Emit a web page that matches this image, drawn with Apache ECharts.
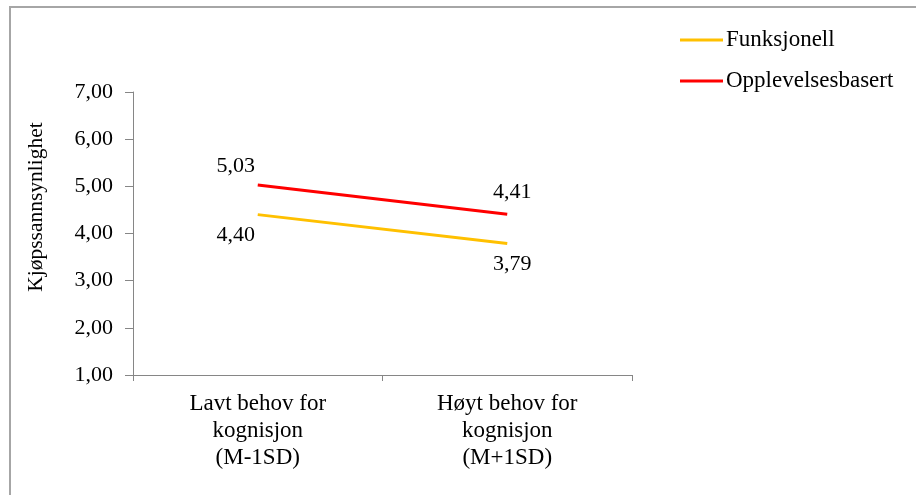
<!DOCTYPE html>
<html>
<head>
<meta charset="utf-8">
<script src="https://cdn.jsdelivr.net/npm/echarts@6/dist/echarts.min.js"></script>
<style>
html,body{margin:0;padding:0;background:#fff;}
#c{width:916px;height:495px;}
</style>
</head>
<body>
<div id="c"></div>
<script>
const categories = ['Lavt behov for\nkognisjon\n(M-1SD)', 'Høyt behov for\nkognisjon\n(M+1SD)'];
const seriesNames = ['Funksjonell', 'Opplevelsesbasert'];
const funksjonell = [4.40, 3.79];
const opplevelsesbasert = [5.03, 4.41];
const yTicks = [1, 2, 3, 4, 5, 6, 7];
const yAxisTitle = 'Kjøpssannsynlighet';

const font = 'Liberation Serif';
const fmt = v => Number(v).toFixed(2).replace('.', ',');

const chart = echarts.init(document.getElementById('c'), null, {renderer: 'canvas'});
chart.setOption({
  animation: false,
  backgroundColor: '#fff',
  textStyle: {fontFamily: font},
  grid: {left: 133, right: 284, top: 92, bottom: 120},
  graphic: [
    {type: 'rect', shape: {x: 10, y: 7, width: 920, height: 500},
     style: {fill: 'none', stroke: '#a6a6a6', lineWidth: 2}, silent: true},
    {type: 'text', x: 36, y: 207, rotation: Math.PI / 2,
     style: {text: yAxisTitle, font: '21.5px "Liberation Serif"', fill: '#000',
             align: 'center', verticalAlign: 'middle'}}
  ],
  legend: {
    orient: 'vertical', left: 680, top: 28, padding: 0,
    itemWidth: 43, itemHeight: 3, itemGap: 17,
    icon: 'rect',
    data: seriesNames,
    textStyle: {fontFamily: font, fontSize: 23, color: '#000', lineHeight: 24, padding: [0, 0, 0, -2]}
  },
  xAxis: {
    type: 'category', data: categories, boundaryGap: true,
    axisLine: {lineStyle: {color: '#868686', width: 1}},
    axisTick: {show: true, length: 6, lineStyle: {color: '#868686'}},
    axisLabel: {fontFamily: font, fontSize: 23, color: '#000', lineHeight: 27, margin: 15, interval: 0}
  },
  yAxis: {
    type: 'value', min: yTicks[0], max: yTicks[yTicks.length - 1], interval: 1,
    splitLine: {show: false},
    axisLine: {show: true, lineStyle: {color: '#868686', width: 1}},
    axisTick: {show: true, length: 8, lineStyle: {color: '#868686'}},
    axisLabel: {fontFamily: font, fontSize: 22, color: '#000', margin: 20, formatter: fmt}
  },
  series: [
    {
      name: seriesNames[0], type: 'line', symbol: 'circle', symbolSize: 0.01, showSymbol: true,
      lineStyle: {color: '#FFC000', width: 3}, itemStyle: {color: '#FFC000'},
      data: [
        {value: funksjonell[0], label: {show: true, position: 'bottom', distance: 10, offset: [-22, 0]}},
        {value: funksjonell[1], label: {show: true, position: 'bottom', distance: 10, offset: [5, 0]}}
      ],
      label: {show: true, fontFamily: font, fontSize: 22, color: '#000', formatter: p => fmt(p.value)}
    },
    {
      name: seriesNames[1], type: 'line', symbol: 'circle', symbolSize: 0.01, showSymbol: true,
      lineStyle: {color: '#FF0000', width: 3}, itemStyle: {color: '#FF0000'},
      data: [
        {value: opplevelsesbasert[0], label: {show: true, position: 'top', distance: 8, offset: [-22, 0]}},
        {value: opplevelsesbasert[1], label: {show: true, position: 'top', distance: 11, offset: [5, 0]}}
      ],
      label: {show: true, fontFamily: font, fontSize: 22, color: '#000', formatter: p => fmt(p.value)}
    }
  ]
});
</script>
</body>
</html>
